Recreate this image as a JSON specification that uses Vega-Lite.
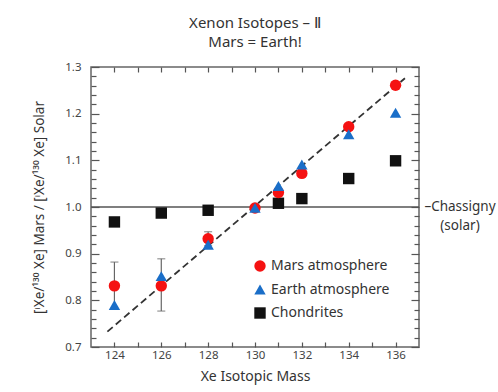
{
  "$schema": "https://vega.github.io/schema/vega-lite/v6.json",
  "width": 328,
  "height": 280,
  "autosize": {"type": "none"},
  "padding": {"left": 91, "top": 67, "right": 79, "bottom": 45},
  "background": "white",
  "title": {
    "text": "Xenon Isotopes – Ⅱ",
    "subtitle": "Mars = Earth!",
    "fontSize": 15,
    "subtitleFontSize": 15,
    "fontWeight": "normal",
    "color": "#333333",
    "subtitleColor": "#333333",
    "subtitlePadding": 4,
    "offset": 11,
    "anchor": "middle"
  },
  "config": {
    "font": "Noto Sans",
    "view": {"stroke": "#666666", "strokeWidth": 1.5},
    "axis": {"domain": false, "grid": false, "tickColor": "#555555", "tickWidth": 1.2, "labelColor": "#444444", "labelFontSize": 11.5, "titleColor": "#333333", "titleFontWeight": "normal"}
  },
  "datasets": {
    "isotopes": [
      {"mass": 124, "ratio": 0.968, "series": "Chondrites"},
      {"mass": 126, "ratio": 0.987, "series": "Chondrites"},
      {"mass": 128, "ratio": 0.993, "series": "Chondrites"},
      {"mass": 131, "ratio": 1.008, "series": "Chondrites"},
      {"mass": 132, "ratio": 1.018, "series": "Chondrites"},
      {"mass": 134, "ratio": 1.061, "series": "Chondrites"},
      {"mass": 136, "ratio": 1.099, "series": "Chondrites"},
      {"mass": 124, "ratio": 0.831, "series": "Mars atmosphere"},
      {"mass": 126, "ratio": 0.831, "series": "Mars atmosphere"},
      {"mass": 128, "ratio": 0.932, "series": "Mars atmosphere"},
      {"mass": 130, "ratio": 0.998, "series": "Mars atmosphere"},
      {"mass": 131, "ratio": 1.031, "series": "Mars atmosphere"},
      {"mass": 132, "ratio": 1.072, "series": "Mars atmosphere"},
      {"mass": 134, "ratio": 1.172, "series": "Mars atmosphere"},
      {"mass": 136, "ratio": 1.261, "series": "Mars atmosphere"},
      {"mass": 124, "ratio": 0.79, "series": "Earth atmosphere"},
      {"mass": 126, "ratio": 0.852, "series": "Earth atmosphere"},
      {"mass": 128, "ratio": 0.919, "series": "Earth atmosphere"},
      {"mass": 130, "ratio": 0.998, "series": "Earth atmosphere"},
      {"mass": 131, "ratio": 1.045, "series": "Earth atmosphere"},
      {"mass": 132, "ratio": 1.091, "series": "Earth atmosphere"},
      {"mass": 134, "ratio": 1.156, "series": "Earth atmosphere"},
      {"mass": 136, "ratio": 1.202, "series": "Earth atmosphere"}
    ],
    "marsErrors": [
      {"mass": 124, "lo": 0.782, "hi": 0.882},
      {"mass": 126, "lo": 0.777, "hi": 0.889},
      {"mass": 128, "lo": 0.917, "hi": 0.947}
    ],
    "fractionation": [
      {"mass": 123.7, "ratio": 0.733},
      {"mass": 136.4, "ratio": 1.276}
    ],
    "solar": [
      {"mass": 137, "ratio": 1.0}
    ]
  },
  "resolve": {"axis": {"x": "independent", "y": "independent"}},
  "layer": [
    {
      "data": {"name": "solar"},
      "mark": {"type": "rule", "color": "#555555", "strokeWidth": 1.5},
      "encoding": {
        "y": {"field": "ratio", "type": "quantitative", "scale": {"domain": [0.7, 1.3], "nice": false, "zero": false}, "axis": null}
      }
    },
    {
      "data": {"name": "fractionation"},
      "mark": {"type": "line", "color": "#333333", "strokeWidth": 1.8, "strokeDash": [7, 4]},
      "encoding": {
        "x": {"field": "mass", "type": "quantitative", "scale": {"domain": [123, 137], "nice": false, "zero": false},
              "axis": {"orient": "top", "values": [124, 125, 126, 127, 128, 129, 130, 131, 132, 133, 134, 135, 136], "labels": false, "tickSize": -5, "title": null}},
        "y": {"field": "ratio", "type": "quantitative", "scale": {"domain": [0.7, 1.3], "nice": false, "zero": false},
              "axis": {"orient": "right", "values": [0.7, 0.72, 0.74, 0.76, 0.78, 0.8, 0.82, 0.84, 0.86, 0.88, 0.9, 0.92, 0.94, 0.96, 0.98, 1.0, 1.02, 1.04, 1.06, 1.08, 1.1, 1.12, 1.14, 1.16, 1.18, 1.2, 1.22, 1.24, 1.26, 1.28, 1.3], "labels": false, "title": null,
                       "tickSize": {"condition": {"test": "abs(datum.value * 10 - round(datum.value * 10)) < 0.01", "value": -8}, "value": -5}}}
      }
    },
    {
      "data": {"name": "marsErrors"},
      "mark": {"type": "rule", "color": "#666666", "strokeWidth": 1.2},
      "encoding": {
        "x": {"field": "mass", "type": "quantitative", "scale": {"domain": [123, 137], "nice": false, "zero": false}, "axis": null},
        "y": {"field": "lo", "type": "quantitative", "scale": {"domain": [0.7, 1.3], "nice": false, "zero": false}, "axis": null},
        "y2": {"field": "hi"}
      }
    },
    {
      "data": {"name": "marsErrors"},
      "mark": {"type": "tick", "orient": "horizontal", "color": "#666666", "size": 8, "thickness": 1.2},
      "encoding": {
        "x": {"field": "mass", "type": "quantitative", "scale": {"domain": [123, 137], "nice": false, "zero": false}, "axis": null},
        "y": {"field": "lo", "type": "quantitative", "scale": {"domain": [0.7, 1.3], "nice": false, "zero": false}, "axis": null}
      }
    },
    {
      "data": {"name": "marsErrors"},
      "mark": {"type": "tick", "orient": "horizontal", "color": "#666666", "size": 8, "thickness": 1.2},
      "encoding": {
        "x": {"field": "mass", "type": "quantitative", "scale": {"domain": [123, 137], "nice": false, "zero": false}, "axis": null},
        "y": {"field": "hi", "type": "quantitative", "scale": {"domain": [0.7, 1.3], "nice": false, "zero": false}, "axis": null}
      }
    },
    {
      "data": {"name": "isotopes"},
      "mark": {"type": "point", "filled": true, "opacity": 1, "size": 130},
      "encoding": {
        "x": {"field": "mass", "type": "quantitative", "scale": {"domain": [123, 137], "nice": false, "zero": false},
              "axis": {"orient": "bottom", "values": [124, 125, 126, 127, 128, 129, 130, 131, 132, 133, 134, 135, 136], "tickSize": -5, "labelPadding": 7.5,
                       "labelExpr": "datum.value % 2 == 0 ? datum.label : ''", "title": "Xe Isotopic Mass", "titleFontSize": 14, "titlePadding": 8}},
        "y": {"field": "ratio", "type": "quantitative", "scale": {"domain": [0.7, 1.3], "nice": false, "zero": false},
              "axis": {"orient": "left", "values": [0.7, 0.72, 0.74, 0.76, 0.78, 0.8, 0.82, 0.84, 0.86, 0.88, 0.9, 0.92, 0.94, 0.96, 0.98, 1.0, 1.02, 1.04, 1.06, 1.08, 1.1, 1.12, 1.14, 1.16, 1.18, 1.2, 1.22, 1.24, 1.26, 1.28, 1.3],
                       "tickSize": {"condition": {"test": "abs(datum.value * 10 - round(datum.value * 10)) < 0.01", "value": -8}, "value": -5},
                       "labelPadding": 18,
                       "labelExpr": "abs(datum.value * 10 - round(datum.value * 10)) < 0.01 ? format(datum.value, '.1f') : ''",
                       "title": "[ⁱXe/¹³⁰ Xe] Mars / [ⁱXe/¹³⁰ Xe] Solar", "titleFontSize": 13.5, "titlePadding": 18}},
        "color": {"field": "series", "type": "nominal",
                  "scale": {"domain": ["Mars atmosphere", "Earth atmosphere", "Chondrites"], "range": ["#f51212", "#1a6ec8", "#111111"]},
                  "legend": {"orient": "none", "legendX": 162, "legendY": 192, "title": null, "labelFontSize": 14, "labelColor": "#333333", "symbolSize": 130, "rowPadding": 9.5}},
        "shape": {"field": "series", "type": "nominal",
                  "scale": {"domain": ["Mars atmosphere", "Earth atmosphere", "Chondrites"], "range": ["circle", "triangle-up", "square"]}},
        "order": {"field": "mass"}
      }
    },
    {
      "data": {"name": "solar"},
      "mark": {"type": "text", "text": ["–Chassigny", "(solar)"], "align": "center", "baseline": "alphabetic", "dx": 41, "dy": 4, "fontSize": 13.5, "lineHeight": 19, "color": "#333333"},
      "encoding": {
        "x": {"field": "mass", "type": "quantitative", "scale": {"domain": [123, 137], "nice": false, "zero": false}, "axis": null},
        "y": {"field": "ratio", "type": "quantitative", "scale": {"domain": [0.7, 1.3], "nice": false, "zero": false}, "axis": null}
      }
    }
  ]
}
